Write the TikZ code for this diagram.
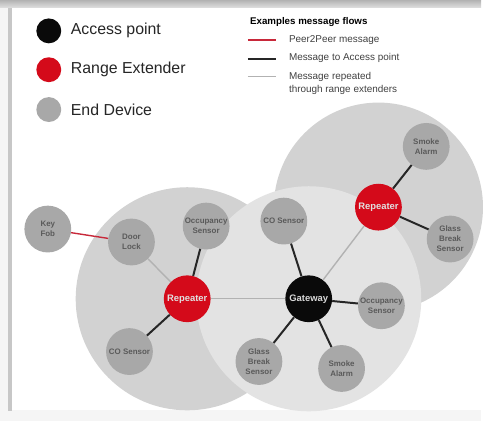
\documentclass[tikz,border=0pt]{standalone}
\usepackage{fontspec}
\setmainfont{Liberation Sans}
\usetikzlibrary{shapes,backgrounds,positioning,fit}

\definecolor{apblack}{HTML}{0A0A0A}
\definecolor{rered}{HTML}{D40A1A}
\definecolor{edgray}{HTML}{A8A8A8}
\definecolor{zonedark}{HTML}{D2D2D2}
\definecolor{zonelight}{HTML}{E3E3E3}
\definecolor{txtgray}{HTML}{5A5A5A}
\definecolor{linkgray}{HTML}{B2B2B2}
\definecolor{linkred}{HTML}{C8283A}

\begin{document}
\begin{tikzpicture}[x=1bp,y=-1bp]
	\tikzstyle{Device}	= [circle, draw=none, minimum size=47bp, inner sep=0pt, align=center]
	\tikzstyle{End}		= [fill=edgray, text=txtgray, font=\fontsize{8}{10}\selectfont\bfseries]
	\tikzstyle{Rep}		= [fill=rered, text=white!88!black, font=\fontsize{9.5}{11}\selectfont\bfseries]
	\tikzstyle{AP}		= [fill=apblack, text=white!85!black, font=\fontsize{9.5}{11}\selectfont\bfseries]
	\tikzstyle{PP}		= [linkred, line width=1.4bp]
	\tikzstyle{TA}		= [black!85, line width=2bp]
	\tikzstyle{RT}		= [linkgray, line width=1.4bp]
	\tikzstyle{Key}		= [circle, minimum size=25bp, inner sep=0pt]
	\tikzstyle{KeyText}	= [anchor=west, inner sep=0pt, text=black!85, font=\fontsize{16}{18}\selectfont]
	\tikzstyle{FlowText}	= [anchor=west, inner sep=0pt, text=black!75, align=left, font=\fontsize{10}{13.3}\selectfont]

	% sheet with its shadow
	\fill[black!4] (0,0) rectangle (483,423);
	\shade[top color=black!30, bottom color=black!12] (0,0) rectangle (483,8);
	\fill[black!22] (8,8) rectangle (12,413);
	\fill[white] (12,8) rectangle (483,412);

	% radio ranges
	\fill[zonedark] (188,300) circle (112bp);
	\fill[zonedark] (380,208) circle (105bp);
	\fill[zonelight] (310,300) circle (113bp);

	% legend
	\node (kap) at (49,31) [Key, fill=apblack] {};
	\node (kre) at (49,70) [Key, fill=rered] {};
	\node (ked) at (49,110) [Key, fill=edgray] {};
	\node (tap) at (71,31) [KeyText] {Access point};
	\node (tre) at (71,70) [KeyText] {Range Extender};
	\node (ted) at (71,110) [KeyText] {End Device};

	\node (fh) at (251,22) [FlowText, text=black, font=\fontsize{9.8}{12}\selectfont\bfseries] {Examples message flows};
	\coordinate (f1a) at (249,40);	\coordinate (f1b) at (277,40);
	\coordinate (f2a) at (249,59);	\coordinate (f2b) at (277,59);
	\coordinate (f3a) at (249,77);	\coordinate (f3b) at (277,77);
	\draw [-] (f1a) to (f1b) [PP];
	\draw [-] (f2a) to (f2b) [TA];
	\draw [-] (f3a) to (f3b) [RT];
	\node (f1) at (290,40) [FlowText] {Peer2Peer message};
	\node (f2) at (290,58) [FlowText] {Message to Access point};
	\node (f3) at (290,83.5) [FlowText] {Message repeated\\through range extenders};

	% access point and repeaters
	\node (gw) at (310,300) [Device][AP] {Gateway};
	\node (r1) at (188,300) [Device][Rep] {Repeater};
	\node (r2) at (380,208) [Device][Rep] {Repeater};

	% end devices
	\node (kf)  at (48,230)  [Device][End] {Key\\Fob};
	\node (dl)  at (132,243) [Device][End] {Door\\Lock};
	\node (os1) at (207,227) [Device][End] {Occupancy\\Sensor};
	\node (co1) at (130,353) [Device][End] {CO Sensor};
	\node (co2) at (285,222) [Device][End] {CO Sensor};
	\node (os2) at (383,307) [Device][End] {Occupancy\\Sensor};
	\node (sa1) at (343,370) [Device][End] {Smoke\\Alarm};
	\node (gb1) at (260,363) [Device][End] {Glass\\Break\\Sensor};
	\node (sa2) at (428,147) [Device][End] {Smoke\\Alarm};
	\node (gb2) at (452,240) [Device][End] {Glass\\Break\\Sensor};

	% links
	\draw [-] (kf) to (dl) [PP];
	\draw [-] (dl) to (r1) [RT];
	\draw [-] (r1) to (gw) [RT];
	\draw [-] (gw) to (r2) [RT];
	\draw [-] (os1) to (r1) [TA];
	\draw [-] (co1) to (r1) [TA];
	\draw [-] (gw) to (co2) [TA];
	\draw [-] (gw) to (os2) [TA];
	\draw [-] (gw) to (sa1) [TA];
	\draw [-] (gw) to (gb1) [TA];
	\draw [-] (r2) to (sa2) [TA];
	\draw [-] (r2) to (gb2) [TA];
\end{tikzpicture}
\end{document}
